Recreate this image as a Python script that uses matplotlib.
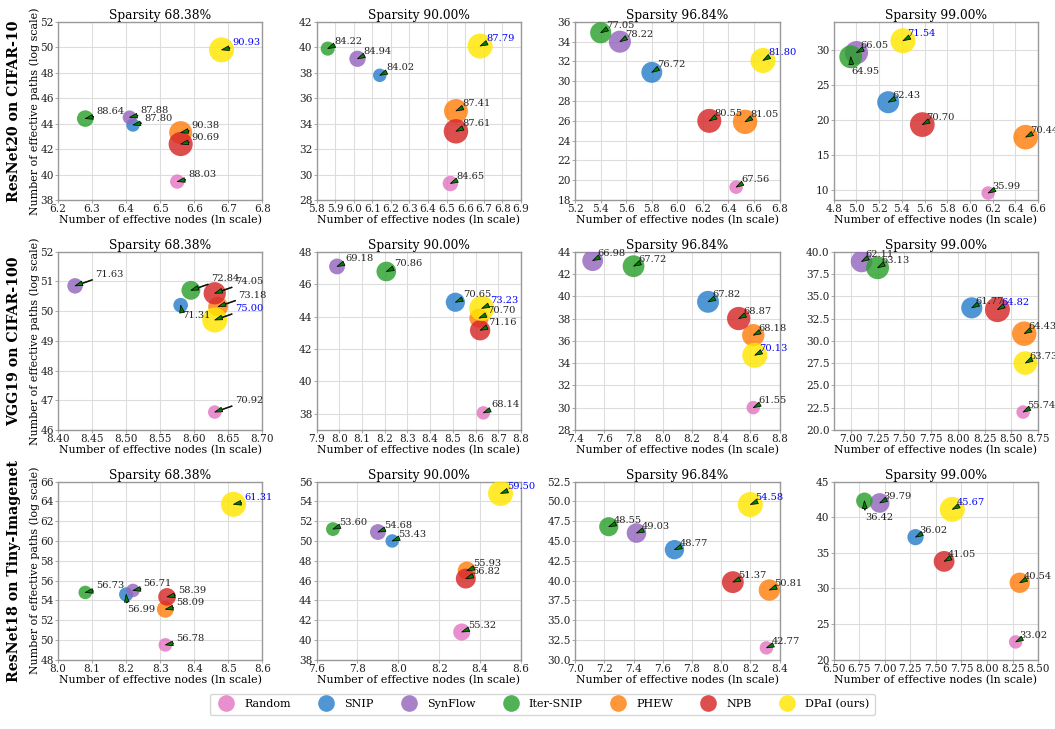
import numpy as np
import matplotlib.pyplot as plt
from matplotlib.lines import Line2D
from matplotlib.ticker import MultipleLocator

plt.rcParams['font.family'] = 'DejaVu Serif'

methods = ['Random', 'SNIP', 'SynFlow', 'Iter-SNIP', 'PHEW', 'NPB', 'DPaI (ours)']
colors = ['#e377c2', '#2a7fcc', '#9467bd', '#2ca02c', '#ff7f0e', '#d62728', '#ffe600']
row_names = ['ResNet20 on CIFAR-10', 'VGG19 on CIFAR-100', 'ResNet18 on Tiny-Imagenet']
sparsities = ['68.38%', '90.00%', '96.84%', '99.00%']

# one inner list per sparsity, methods in the order above
resnet20_nodes = [[6.55, 6.42, 6.41, 6.28, 6.56, 6.56, 6.68],
                  [6.52, 6.14, 6.02, 5.86, 6.55, 6.55, 6.68],
                  [6.46, 5.80, 5.55, 5.40, 6.53, 6.25, 6.67],
                  [6.16, 5.28, 5.00, 4.95, 6.49, 5.58, 5.41]]
resnet20_paths = [[39.45, 43.9, 44.5, 44.4, 43.3, 42.4, 49.8],
                  [29.3, 37.8, 39.1, 39.9, 35.0, 33.4, 40.1],
                  [19.3, 30.9, 34.0, 34.9, 25.9, 26.0, 32.1],
                  [9.5, 22.5, 29.6, 29.0, 17.5, 19.3, 31.3]]
resnet20_acc = [[88.03, 87.80, 87.88, 88.64, 90.38, 90.69, 90.93],
                [84.65, 84.02, 84.94, 84.22, 87.41, 87.61, 87.79],
                [67.56, 76.72, 78.22, 77.05, 81.05, 80.55, 81.80],
                [35.99, 62.43, 66.05, 64.95, 70.44, 70.70, 71.54]]

vgg19_nodes = [[8.63, 8.58, 8.425, 8.595, 8.635, 8.63, 8.63],
               [8.634, 8.511, 7.99, 8.207, 8.615, 8.62, 8.627],
               [8.62, 8.31, 7.52, 7.80, 8.62, 8.52, 8.63],
               [8.61, 8.13, 7.10, 7.25, 8.62, 8.37, 8.63]]
vgg19_paths = [[46.6, 50.2, 50.85, 50.7, 50.15, 50.6, 49.7],
               [38.05, 44.88, 47.09, 46.78, 43.9, 43.15, 44.5],
               [30.0, 39.5, 43.2, 42.7, 36.5, 38.0, 34.7],
               [22.0, 33.7, 38.9, 38.2, 30.8, 33.5, 27.5]]
vgg19_acc = [[70.92, 71.31, 71.63, 72.84, 73.18, 74.05, 75.00],
             [68.14, 70.65, 69.18, 70.86, 70.70, 71.16, 73.23],
             [61.55, 67.82, 66.98, 67.72, 68.18, 68.87, 70.13],
             [55.74, 61.77, 62.11, 63.13, 64.43, 64.82, 63.73]]

resnet18_nodes = [[8.315, 8.20, 8.22, 8.08, 8.315, 8.32, 8.515],
                  [8.31, 7.97, 7.90, 7.68, 8.335, 8.33, 8.50],
                  [8.31, 7.68, 7.42, 7.23, 8.33, 8.08, 8.20],
                  [8.28, 7.30, 6.95, 6.80, 8.32, 7.58, 7.66]]
resnet18_paths = [[49.5, 54.6, 55.0, 54.8, 53.1, 54.35, 63.7],
                  [40.8, 50.0, 50.9, 51.2, 47.0, 46.2, 54.8],
                  [31.5, 43.9, 46.0, 46.8, 38.8, 39.8, 49.6],
                  [22.5, 37.2, 42.0, 42.3, 30.8, 33.8, 41.1]]
resnet18_acc = [[56.78, 56.99, 56.71, 56.73, 58.09, 58.39, 61.31],
                [55.32, 53.43, 54.68, 53.60, 55.93, 56.82, 59.50],
                [42.77, 48.77, 49.03, 48.55, 50.81, 51.37, 54.58],
                [33.02, 36.02, 39.79, 36.42, 40.54, 41.05, 45.67]]

rows = [(resnet20_nodes, resnet20_paths, resnet20_acc),
        (vgg19_nodes, vgg19_paths, vgg19_acc),
        (resnet18_nodes, resnet18_paths, resnet18_acc)]

# axis ranges and tick spacing for each panel
xlims = [[(6.2, 6.8), (5.8, 6.9), (5.2, 6.8), (4.8, 6.6)],
         [(8.4, 8.7), (7.9, 8.8), (7.4, 8.8), (6.84, 8.75)],
         [(8.0, 8.6), (7.6, 8.6), (7.0, 8.4), (6.5, 8.5)]]
ylims = [[(38, 52), (28, 42), (18, 36), (8.5, 34)],
         [(46, 52), (37, 48), (28, 44), (20, 40)],
         [(48, 66), (38, 56), (30, 52.5), (20, 45)]]
xsteps = [[0.1, 0.1, 0.2, 0.2], [0.05, 0.1, 0.2, 0.25], [0.1, 0.2, 0.2, 0.25]]
ysteps = [[2, 2, 2, 5], [1, 2, 2, 2.5], [2, 2, 2.5, 5]]

# label offsets (points) per panel, plus a few labels pushed below their marker
label_offsets = [[(8, 3.2), (4.5, 3.6), (3.6, 3.6), (3.1, 3.1)],
                 [(14.5, 6.5), (5.8, 4), (3.4, 3.2), (2.9, 3.1)],
                 [(7.7, 3), (4.5, 3.2), (3.6, 3), (2.9, 3)]]
below = {(0, 3, 3): (0.5, -12.7), (1, 0, 1): (0.7, -8.9),
         (2, 0, 1): (0.7, -13), (2, 3, 3): (0.5, -13.7)}

fig, axes = plt.subplots(3, 4, figsize=(10.55, 7.29), dpi=100)
fig.subplots_adjust(left=0.055, right=0.984, top=0.970, bottom=0.095,
                    wspace=0.265, hspace=0.29)

for r, (nodes, paths, accs) in enumerate(rows):
    for c in range(4):
        ax = axes[r, c]
        x = np.array(nodes[c])
        y = np.array(paths[c])
        acc = np.array(accs[c])
        norm = (acc - acc.min()) / (acc.max() - acc.min())
        sizes = (0.72 * (13.5 + 11.5 * norm)) ** 2
        best = int(np.argmax(acc))
        for i in range(len(methods)):
            ax.scatter(x[i], y[i], s=sizes[i], color=colors[i], alpha=0.82,
                       edgecolors='none', zorder=3)
        for i in range(len(methods)):
            off = below.get((r, c, i), label_offsets[r][c])
            ax.annotate(f'{acc[i]:.2f}', xy=(x[i], y[i]), xytext=off,
                        textcoords='offset points', ha='left', va='baseline',
                        fontsize=7.1, color='blue' if i == best else '#222222',
                        zorder=5,
                        arrowprops=dict(facecolor='green', edgecolor='black',
                                        width=0.6, headwidth=3.4, headlength=5.5,
                                        lw=0.5, shrink=0.0))
        ax.set_xlim(*xlims[r][c])
        ax.set_ylim(*ylims[r][c])
        ax.xaxis.set_major_locator(MultipleLocator(xsteps[r][c]))
        ax.yaxis.set_major_locator(MultipleLocator(ysteps[r][c]))
        ax.grid(True, color='#dddddd', lw=0.8, zorder=0)
        ax.set_axisbelow(True)
        for sp in ax.spines.values():
            sp.set_color('#999999')
            sp.set_linewidth(1.0)
        ax.tick_params(labelsize=7.6, length=2, width=0.6, color='#999999',
                       pad=1, labelcolor='#222222')
        ax.set_title(f'Sparsity {sparsities[c]}', fontsize=8.8, pad=2)
        ax.set_xlabel('Number of effective nodes (ln scale)', fontsize=7.9,
                      labelpad=0.5)
        if c == 0:
            ax.set_ylabel('Number of effective paths (log scale)', fontsize=7.9,
                          labelpad=0.5)
    pos = axes[r, 0].get_position()
    fig.text(0.0135, (pos.y0 + pos.y1) / 2, row_names[r], rotation=90,
             ha='center', va='center', fontsize=10.2, fontweight='bold')

handles = [Line2D([], [], marker='o', ls='', markersize=12, color=col,
                  alpha=0.82, markeredgewidth=0) for col in colors]
fig.legend(handles, methods, loc='center', bbox_to_anchor=(0.514, 0.034),
           ncol=7, fontsize=8, frameon=True, edgecolor='#cccccc',
           columnspacing=2.2, handletextpad=0.6, borderpad=0.5)

fig.savefig('out.png', dpi=100, facecolor='white')
